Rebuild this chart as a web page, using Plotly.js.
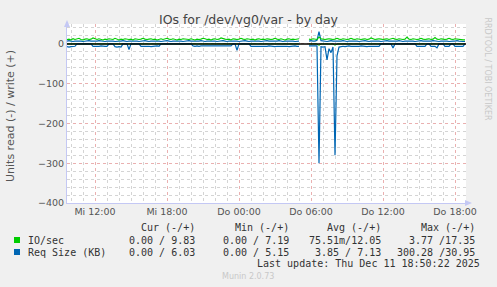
<!DOCTYPE html>
<html><head><meta charset="utf-8">
<script src="https://cdn.plot.ly/plotly-3.0.1.min.js"></script>
<style>html,body{margin:0;padding:0;background:#f0f0f0;}</style>
</head><body><div id="chart" style="width:497px;height:287px;"></div>
<script>
// Sampling: 10-minute steps starting Wed 2025-12-10 09:40
const startTime = "2025-12-10 09:40";
const stepMinutes = 10;

// IO/sec write (+)
const ioWrite = [
11,12,10,13,11,12,14,11,10,12,13,11,12,15,12,11,13,12,10,12,
11,13,12,11,14,12,10,12,11,13,12,11,12,10,13,12,11,12,14,12,
11,12,13,11,12,10,12,13,11,12,14,12,11,13,12,10,12,11,13,12,
12,11,13,12,10,12,11,12,14,13,11,12,10,12,13,11,12,15,13,12,
11,12,10,13,12,11,12,14,12,11,13,12,11,12,10,12,13,11,12,11,
13,12,11,12,14,12,11,13,12,10,12,13,11,12,11,12,13,null,null,null,
null,12,11,13,12,11,17,13,12,11,12,13,12,11,12,14,12,11,13,12,
11,12,14,12,11,13,12,11,12,13,11,12,15,12,11,12,13,12,11,12,
13,11,12,14,12,11,13,12,11,12,17,12,11,13,12,11,12,14,12,11,
12,13,11,12,16,12,11,13,12,11,12,14,12,11,13,12,12,11,10,10];

// IO/sec read (-)
const ioRead = [
-0.1,-0.1,-0.1,-0.1,-0.1,0,0,0,0,0,0,0,0,-0.1,-0.1,-0.1,-0.1,-0.1,-0.1,-0.1,
-0.1,0,0,0,-0.1,-0.1,-0.1,-0.1,0,0,0,-0.1,0,0,0,0,0,-0.1,-0.1,-0.1,
-0.1,-0.1,-0.1,-0.1,-0.1,-0.1,-0.1,0,0,0,0,0,0,0,0,0,0,0,0,0,
0,0,0,-0.1,-0.1,-0.1,-0.1,-0.1,-0.1,-0.1,-0.1,-0.1,-0.1,-0.1,-0.1,-0.1,-0.1,-0.1,-0.1,-0.1,
-0.1,-0.1,-0.1,0,0,-0.1,0,0,0,0,0,0,-0.1,-0.1,-0.1,-0.1,-0.1,-0.1,-0.1,-0.1,
-0.1,-0.1,-0.1,-0.1,-0.1,-0.1,-0.1,-0.1,-0.1,-0.1,-0.1,-0.1,-0.1,-0.1,-0.1,-0.1,-0.1,null,null,null,
null,-0.1,-0.1,-0.1,-0.1,-0.1,-3.8,-0.2,-0.2,-0.2,-0.5,-0.2,-0.3,-0.2,-3.5,-0.4,-0.1,-0.1,-0.1,-0.1,
-0.1,-0.1,-0.1,-0.1,-0.1,-0.1,-0.1,-0.1,-0.1,-0.1,-0.1,-0.1,-0.1,-0.1,-0.1,-0.1,-0.1,0,0,0,
0,0,0,-0.1,0,0,0,0,0,0,0,0,0,0,0,-0.1,-0.1,-0.1,-0.1,-0.1,
0,0,-0.1,-0.1,-0.1,-0.1,0,0,0,-0.1,-0.1,-0.1,0,0,-0.1,-0.1,-0.1,-0.1,-0.1,0];

// Req Size (KB) write (+)
const reqWrite = [
7,8,7,6,7,7,8,7,6,7,7,8,7,7,6,7,8,7,7,6,
7,7,8,7,6,7,7,7,8,7,6,7,7,8,7,7,6,7,7,8,
7,6,7,7,8,7,7,6,7,7,8,7,6,7,7,7,8,7,6,7,
7,8,7,7,6,7,7,8,7,6,7,7,7,8,7,6,7,7,8,7,
6,7,7,8,7,7,6,7,7,8,7,6,7,7,7,8,7,6,7,7,
8,7,7,6,7,7,8,7,6,7,7,7,8,7,6,7,7,null,null,null,
null,7,8,7,7,9,31,8,7,7,6,7,8,7,7,6,7,7,8,7,
6,7,7,8,7,7,6,7,7,8,7,6,7,7,7,8,7,6,7,7,
8,7,7,6,7,7,8,7,6,7,7,7,8,7,6,7,7,8,7,7,
6,7,7,8,7,7,6,7,7,8,7,6,7,7,7,8,7,6,6,6];

// Req Size (KB) read (-)
const reqRead = [
-7,-8,-7,-7,-6,0,0,0,0,0,0,0,0,-6,-6,-7,-6,-5,-6,-6,
-6,0,0,0,-7,-8,-7,-8,0,0,0,-14,0,0,0,0,0,-6,-6,-5,
-6,-6,-7,-6,-6,-5,-6,0,0,0,0,0,0,0,0,0,0,0,0,0,
0,0,0,-5,-6,-5,-6,-5,-5,-6,-5,-6,-5,-5,-6,-5,-6,-5,-5,-6,
-5,-6,-5,0,0,-16,0,0,0,0,0,0,-6,-6,-7,-6,-6,-6,-7,-6,
-6,-5,-6,-6,-7,-6,-6,-6,-5,-6,-6,-7,-6,-6,-5,-6,-6,null,null,null,
null,-5,-5,-6,-5,-5,-300,-7,-8,-7,-40,-12,-22,-8,-280,-30,-8,-6,-6,-7,
-6,-5,-6,-6,-7,-6,-6,-5,-6,-6,-7,-6,-6,-6,-5,-6,-6,0,0,0,
0,0,0,-10,0,0,0,0,0,0,0,0,0,0,0,-6,-6,-7,-6,-6,
0,0,-6,-6,-6,-10,0,0,0,-6,-6,-6,0,0,-6,-6,-7,-6,-6,0];

const tickVals = ["2025-12-10 12:00","2025-12-10 18:00","2025-12-11 00:00","2025-12-11 06:00","2025-12-11 12:00","2025-12-11 18:00"];
const tickText = ["Mi 12:00","Mi 18:00","Do 00:00","Do 06:00","Do 12:00","Do 18:00"];
const yTicks = [-400,-300,-200,-100,0];

const legendNames = ["IO/sec","Req Size (KB)"];
const legendColors = ["#00cc00","#0066b3"];
const colHeaders = ["Cur (-/+)","Min (-/+)","Avg (-/+)","Max (-/+)"];
const ioStats = ["0.00 / 9.83","0.00 / 7.19","75.51m/12.05","3.77 /17.35"];
const reqStats = ["0.00 / 6.03","0.00 / 5.15","3.85 / 7.13","300.28 /30.95"];
const lastUpdate = "Last update: Thu Dec 11 18:50:22 2025";

function pad(n){return (n<10?"0":"")+n;}
const times = [];
(function(){
  const m0 = 9*60+40;
  for (let i=0;i<ioWrite.length;i++){
    const t = m0 + stepMinutes*i;
    const d = 10 + Math.floor(t/1440);
    const r = t%1440;
    times.push("2025-12-"+pad(d)+" "+pad(Math.floor(r/60))+":"+pad(r%60));
  }
})();

const lineCommon = {type:"scatter", mode:"lines", x:times, hoverinfo:"skip"};
const traces = [
  Object.assign({}, lineCommon, {y:ioRead, line:{color:legendColors[0], width:1, shape:"linear"}}),
  Object.assign({}, lineCommon, {y:reqRead, line:{color:legendColors[1], width:1.2, shape:"linear"}}),
  Object.assign({}, lineCommon, {y:reqWrite, line:{color:legendColors[1], width:1.2, shape:"linear"}}),
  Object.assign({}, lineCommon, {y:ioWrite, line:{color:legendColors[0], width:1.1, shape:"linear"}})
];

const mono = {family:"DejaVu Sans Mono", size:10, color:"#333"};
const annotations = [];
function pxX(px){return (px-67)/399;}
function pxY(py){return (203-py)/179;}
const colRight = [197,291,383,477];
colHeaders.forEach((h,i)=>annotations.push({xref:"paper",yref:"paper",x:pxX(colRight[i]),y:pxY(228),text:h,showarrow:false,xanchor:"right",yanchor:"middle",font:mono}));
[ioStats,reqStats].forEach((row,r)=>{
  const py = 240 + 12*r;
  annotations.push({xref:"paper",yref:"paper",x:pxX(26),y:pxY(py),text:legendNames[r],showarrow:false,xanchor:"left",yanchor:"middle",font:mono});
  row.forEach((s,i)=>annotations.push({xref:"paper",yref:"paper",x:pxX(colRight[i]),y:pxY(py),text:s,showarrow:false,xanchor:"right",yanchor:"middle",font:mono}));
});
annotations.push({xref:"paper",yref:"paper",x:pxX(482),y:pxY(263),text:lastUpdate,showarrow:false,xanchor:"right",yanchor:"middle",font:mono});
annotations.push({xref:"paper",yref:"paper",x:pxX(248),y:pxY(276),text:"Munin 2.0.73",showarrow:false,xanchor:"center",yanchor:"middle",font:{family:"DejaVu Sans",size:8,color:"#c8c8c8"}});
annotations.push({xref:"paper",yref:"paper",x:pxX(487),y:pxY(15),text:"RRDTOOL / TOBI OETIKER",showarrow:false,textangle:90,xanchor:"center",yanchor:"top",font:{family:"DejaVu Sans",size:8,color:"#c8c8c8"}});
// y-axis title
annotations.push({xref:"paper",yref:"paper",x:pxX(10),y:pxY(116),text:"Units read (-) / write (+)",showarrow:false,textangle:-90,xanchor:"center",yanchor:"middle",font:{family:"DejaVu Sans",size:11,color:"#555"}});

const shapes = [];
legendColors.forEach((c,r)=>{
  const py = 240 + 12*r;
  shapes.push({type:"rect",xref:"paper",yref:"paper",x0:pxX(14),x1:pxX(20),y0:pxY(py+3),y1:pxY(py-3),fillcolor:c,line:{width:0}});
});
// zero baseline
shapes.push({type:"line",xref:"paper",yref:"y",x0:0,x1:1,y0:0,y1:0,line:{color:"#000",width:1.5},layer:"above"});
// axis arrows
shapes.push({type:"path",xref:"paper",yref:"paper",path:`M ${pxX(64)} ${pxY(27)} L ${pxX(70)} ${pxY(27)} L ${pxX(67)} ${pxY(20)} Z`,fillcolor:"#c4c8f4",line:{width:0}});
shapes.push({type:"path",xref:"paper",yref:"paper",path:`M ${pxX(465)} ${pxY(200)} L ${pxX(465)} ${pxY(206)} L ${pxX(472)} ${pxY(203)} Z`,fillcolor:"#c4c8f4",line:{width:0}});

const layout = {
  width:497, height:287,
  margin:{l:67, r:31, t:24, b:84},
  paper_bgcolor:"#f0f0f0", plot_bgcolor:"#ffffff",
  showlegend:false,
  font:{family:"DejaVu Sans", size:9.5, color:"#555"},
  title:{text:"IOs for /dev/vg0/var - by day", font:{family:"DejaVu Sans", size:12.5, color:"#444"}, x:0.5, xanchor:"center", y:1-20/287, yanchor:"middle", yref:"container"},
  xaxis:{type:"date", range:["2025-12-10 09:40","2025-12-11 18:55"], tickvals:tickVals, ticktext:tickText,
    showgrid:true, gridcolor:"#eab0b0", griddash:"dot", gridwidth:1, ticks:"", showline:true, linecolor:"#c4c8f4",
    minor:{dtick:3600000, tick0:"2025-12-10 00:00", showgrid:true, gridcolor:"#d4d4d4", griddash:"dot", gridwidth:1},
    tickfont:{family:"DejaVu Sans", size:9.5, color:"#555"}, zeroline:false, fixedrange:true},
  yaxis:{range:[-400,50], tickvals:yTicks, showgrid:true, gridcolor:"#eab0b0", griddash:"dot", gridwidth:1, ticks:"",
    showline:true, linecolor:"#c4c8f4", zeroline:false,
    minor:{dtick:20, tick0:0, showgrid:true, gridcolor:"#d4d4d4", griddash:"dot", gridwidth:1},
    tickfont:{family:"DejaVu Sans", size:9.5, color:"#555"}, fixedrange:true},
  annotations:annotations, shapes:shapes
};
Plotly.newPlot("chart", traces, layout, {displayModeBar:false, staticPlot:true});
</script></body></html>
